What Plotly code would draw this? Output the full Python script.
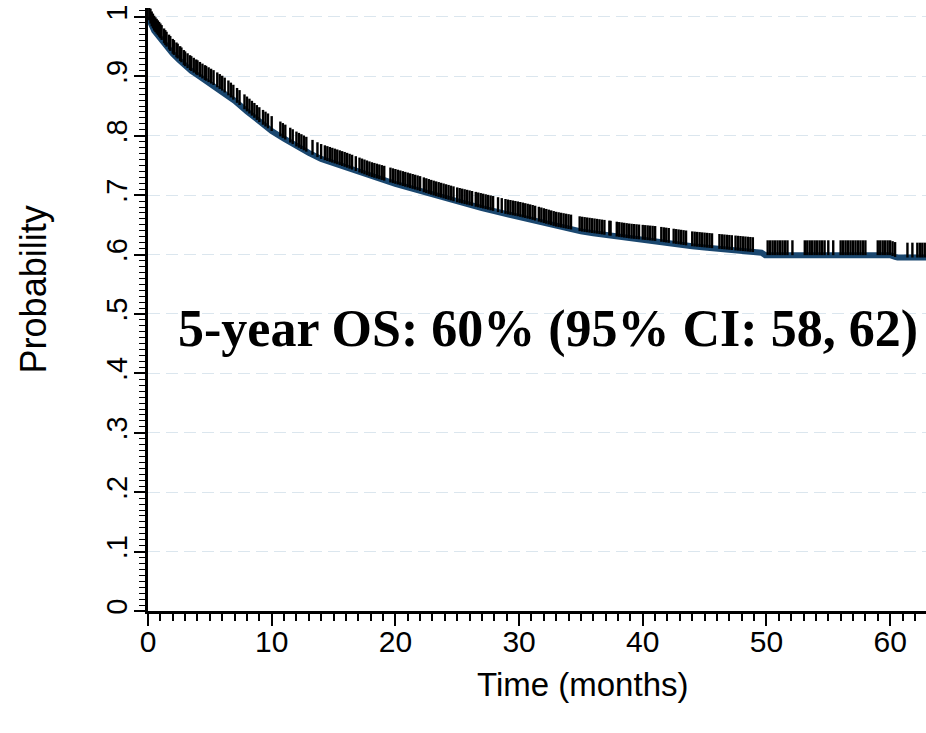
import numpy as np
import plotly.graph_objects as go

# Kaplan-Meier survival estimate
km_time = [0, 0.25, 0.5, 1, 1.5, 2, 2.5, 3, 3.5, 4, 4.5, 5, 5.5, 6, 6.5, 7, 8, 9, 10, 11, 12, 13,
           14, 15, 16, 17, 18, 19, 20, 21, 22, 23, 24, 25, 26, 27, 28, 29, 30, 31, 32, 33, 34,
           35, 36, 37, 38, 39, 40, 41, 42, 43, 44, 45, 46, 47, 48, 49, 49.6, 49.9, 55, 60, 60.4,
           60.6, 63]
km_surv = [1.0, 0.986, 0.977, 0.964, 0.950, 0.938, 0.928, 0.917, 0.909, 0.902, 0.895, 0.889,
           0.883, 0.876, 0.868, 0.859, 0.841, 0.823, 0.808, 0.795, 0.782, 0.771, 0.761, 0.754,
           0.747, 0.739, 0.731, 0.725, 0.719, 0.713, 0.707, 0.700, 0.694, 0.688, 0.683, 0.678,
           0.673, 0.668, 0.664, 0.659, 0.653, 0.647, 0.643, 0.639, 0.636, 0.633, 0.630, 0.627,
           0.625, 0.623, 0.620, 0.617, 0.614, 0.612, 0.610, 0.608, 0.606, 0.604, 0.603, 0.599,
           0.599, 0.599, 0.596, 0.595, 0.595]

# Censoring times (months)
censor_time = [
    0.1, 0.2, 0.3, 0.4, 0.5, 0.6, 0.7, 0.8, 0.9, 1.0, 1.1, 1.3, 1.4, 1.5, 1.7, 1.8, 2.0, 2.1,
    2.3, 2.4, 2.6, 2.7, 2.9, 3.0, 3.2, 3.4, 3.5, 3.7, 3.9, 4.0, 4.2, 4.4, 4.6, 4.7, 4.9, 5.1,
    5.3, 5.6, 5.8, 6.0, 6.2, 6.5, 6.7, 6.9, 7.2, 7.4, 7.8, 8.0, 8.2, 8.4, 8.6, 8.8, 9.0, 9.3,
    9.5, 9.7, 10.0,
    10.7, 10.9, 11.1, 11.5, 11.7, 12.0, 12.2, 12.4, 12.6, 12.8, 13.3, 13.7, 14.0, 14.3, 14.5,
    14.7, 14.9, 15.1, 15.3, 15.5, 15.7, 15.9, 16.1, 16.3, 16.5, 16.8, 17.1, 17.3, 17.5, 17.7,
    17.9, 18.1, 18.3, 18.5, 18.7, 18.9, 19.1, 19.6, 19.8, 20.0, 20.2, 20.4, 20.6, 20.8, 21.0,
    21.2, 21.4, 21.6, 21.8, 22.0, 22.3, 22.5, 22.7, 22.9, 23.1, 23.3, 23.5, 23.7, 23.9, 24.1,
    24.3, 24.5, 24.7, 25.0, 25.2, 25.4, 25.6, 25.8, 26.0, 26.2, 26.5, 26.7, 26.9, 27.1, 27.3,
    27.5, 27.7, 27.9, 28.3, 28.6,
    28.9, 29.1, 29.3, 29.5, 29.7, 29.9, 30.1, 30.3, 30.5, 30.7, 30.9, 31.1, 31.3, 31.6, 31.8,
    32.0, 32.2, 32.4, 32.6, 32.8, 33.0, 33.2, 33.4, 33.6, 33.8, 34.0, 34.2, 34.9, 35.1, 35.3,
    35.5, 35.7, 35.9, 36.1, 36.3, 36.5, 36.7, 36.9, 37.3, 37.4, 37.9, 38.1, 38.3, 38.5, 38.7,
    38.9, 39.1, 39.3, 39.5, 39.7, 40.0, 40.2, 40.4, 40.6, 40.8, 41.0, 41.5, 41.7, 41.9, 42.1,
    42.5, 42.7, 42.9, 43.1, 43.3, 43.5, 44.0, 44.2, 44.4, 44.6, 44.8, 45.0, 45.2, 45.4, 45.6,
    46.2, 46.4, 46.6, 46.8, 47.0, 47.2, 47.5, 47.7, 47.9, 48.1, 48.3, 48.5, 48.7, 48.9,
    50.1, 50.3, 50.5, 50.7, 50.9, 51.1, 51.3, 51.5, 51.7, 52.1, 53.1, 53.3, 53.5, 53.7, 53.9,
    54.1, 54.3, 54.5, 54.7, 55.0, 55.4, 56.0, 56.2, 56.4, 56.6, 56.8, 57.0, 57.2, 57.4, 57.6,
    57.8, 58.0, 59.0, 59.2, 59.4, 59.6, 59.8, 60.0, 60.2, 60.4, 61.4, 61.8, 62.2, 62.4, 62.6,
    62.8]

x_tickvals = [0, 10, 20, 30, 40, 50, 60]
y_tickvals = [0, 0.1, 0.2, 0.3, 0.4, 0.5, 0.6, 0.7, 0.8, 0.9, 1.0]
y_ticktext = ["0", ".1", ".2", ".3", ".4", ".5", ".6", ".7", ".8", ".9", "1"]

annotation_text = "5-year OS: 60% (95% CI: 58, 62)"

censor_surv = np.interp(censor_time, km_time, km_surv)
tick_h = 0.025

NAVY = "#1a476f"
SANS = "Liberation Sans, Arial, sans-serif"

fig = go.Figure()
fig.add_trace(go.Scatter(x=km_time, y=km_surv, mode="lines",
                         line=dict(color=NAVY, width=6), hoverinfo="skip", showlegend=False))
fig.add_trace(go.Scatter(
    x=censor_time, y=censor_surv, mode="markers",
    marker=dict(size=1, color="rgba(0,0,0,0)"),
    error_y=dict(type="data", symmetric=False, array=[tick_h] * len(censor_time),
                 arrayminus=[0] * len(censor_time), color="black", thickness=2.4, width=0),
    hoverinfo="skip", showlegend=False))

fig.add_annotation(x=32.3, y=0.474, xref="x", yref="y", text="<b>" + annotation_text + "</b>",
                   showarrow=False, xanchor="center", yanchor="middle",
                   font=dict(family="Liberation Serif, Times New Roman, serif", size=52, color="black"))
fig.add_annotation(x=-0.146, y=0.534, xref="paper", yref="paper", text="Probability",
                   showarrow=False, textangle=-90, xanchor="center", yanchor="middle",
                   font=dict(family=SANS, size=36, color="black"))
fig.add_annotation(x=0.559, y=-0.1227, xref="paper", yref="paper", text="Time (months)",
                   showarrow=False, xanchor="center", yanchor="middle",
                   font=dict(family=SANS, size=33, color="black"))

fig.update_layout(
    width=926, height=733,
    margin=dict(l=148, r=0, t=8, b=122),
    paper_bgcolor="white", plot_bgcolor="white",
    xaxis=dict(range=[0, 62.9], tickvals=x_tickvals, ticks="outside", ticklen=12, tickwidth=2,
               tickcolor="black", showline=True, linecolor="black", linewidth=3,
               showgrid=False, zeroline=False, ticklabelstandoff=-10,
               tickfont=dict(family=SANS, size=30, color="black"),
               minor=dict(dtick=1, ticks="outside", ticklen=7, tickwidth=1.5, tickcolor="black",
                          showgrid=False)),
    yaxis=dict(range=[0, 1.015], tickvals=y_tickvals, ticktext=y_ticktext, tickangle=-90,
               ticks="outside", ticklen=11, tickwidth=2, tickcolor="black",
               showline=True, linecolor="black", linewidth=2.5, zeroline=False,
               ticklabelstandoff=-4,
               showgrid=True, gridcolor="#dbe6ee", gridwidth=1, griddash="12px,6px",
               tickfont=dict(family=SANS, size=29, color="black"),
               minor=dict(dtick=0.01, ticks="outside", ticklen=6, tickwidth=1.3,
                          tickcolor="black", showgrid=False)),
)

fig.write_html("out.html", config={"displayModeBar": False},
               post_script="document.body.style.margin='0px';document.body.style.overflow='hidden';")
